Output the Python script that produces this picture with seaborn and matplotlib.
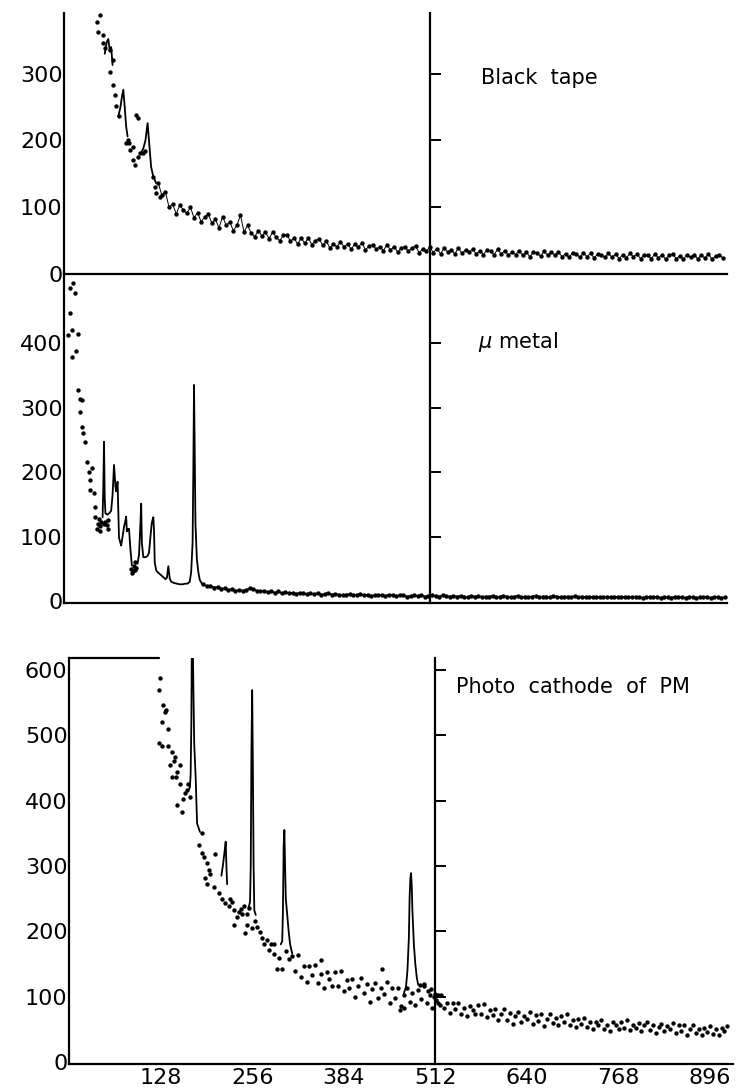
import numpy as np
import matplotlib
matplotlib.use("Agg")
import matplotlib.pyplot as plt
import seaborn as sns

# ---------------- channel axis ----------------
x_ticks = [128, 256, 384, 512, 640, 768, 896]
x_max = 928
split_channel = 512

# ---------------- Black tape ----------------
tape_yticks = [0, 100, 200, 300]
tape_early_x = [46, 51, 48, 54, 54, 58, 65, 64, 69, 68, 71, 73, 77, 87, 91,
                96, 96, 99, 101, 103, 106, 110, 125, 129, 134, 128, 93, 89, 104, 113]
tape_early_y = [378, 388, 363, 358, 346, 339, 336, 303, 321, 283, 268, 251, 236, 196, 196,
                191, 171, 163, 238, 233, 181, 181, 146, 121, 116, 130, 186, 200, 176, 185]
tape_peak_lines = [
    ([57, 60, 62, 64, 66, 68], [330, 348, 352, 335, 340, 313]),
    ([76, 79, 81, 83, 85, 87, 89], [236, 250, 265, 276, 250, 221, 206]),
    ([108, 111, 114, 117, 120, 122, 125, 129], [182, 188, 200, 226, 186, 160, 146, 136]),
]
tape_band_x = np.arange(132, 923, 5)
tape_band_y = [136, 118, 123, 100, 105, 90, 103, 96, 91, 100,
               84, 92, 78, 86, 90, 76, 82, 69, 86, 73,
               78, 65, 73, 88, 63, 73, 61, 56, 65, 57,
               63, 53, 63, 55, 50, 58, 59, 49, 54, 45,
               54, 46, 54, 44, 50, 53, 43, 50, 39, 45,
               41, 48, 41, 45, 37, 45, 40, 47, 36, 42,
               44, 37, 41, 35, 44, 36, 41, 33, 39, 41,
               34, 39, 42, 32, 37, 34, 40, 32, 38, 30,
               39, 33, 36, 30, 39, 31, 36, 33, 37, 30,
               35, 29, 36, 34, 29, 37, 30, 35, 28, 33,
               29, 35, 28, 33, 26, 33, 31, 27, 34, 28,
               33, 28, 33, 26, 30, 25, 32, 30, 25, 32,
               26, 31, 24, 30, 29, 25, 31, 25, 30, 23,
               29, 24, 31, 26, 30, 23, 29, 28, 23, 30,
               24, 29, 22, 28, 30, 23, 27, 22, 29, 25,
               29, 23, 28, 24, 30, 22, 27, 29, 24]

# ---------------- mu metal ----------------
mu_yticks = [0, 100, 200, 300, 400]
mu_early_x = [12, 8, 16, 8, 11, 6, 19, 17, 11, 19, 23, 25, 22, 25, 27, 30, 32, 35, 39, 37,
              37, 42, 44, 44, 47, 49, 50, 52, 46, 51, 58, 60, 62, 56, 61, 94, 96, 98, 100, 95,
              99, 101]
mu_early_y = [493, 485, 478, 447, 420, 412, 414, 387, 379, 327, 314, 312, 293, 270, 260, 247,
              216, 200, 206, 188, 172, 167, 146, 131, 120, 127, 116, 122, 112, 108, 123, 118,
              126, 119, 112, 50, 46, 55, 60, 44, 48, 52]
mu_peak_lines = [
    ([54, 55, 56, 57, 58, 61, 64, 66, 68, 70, 72, 73, 75, 76, 77, 79, 80, 82, 84, 86, 87, 88,
      90, 91, 93, 95],
     [130, 175, 247, 160, 136, 134, 137, 140, 165, 211, 178, 170, 185, 140, 98, 90, 86, 100,
      115, 125, 131, 108, 112, 112, 80, 55]),
    ([103, 105, 107, 108, 109, 111, 114, 117, 119, 121, 123, 125, 126, 127, 129, 130, 134, 138,
      142, 144, 146, 148, 150, 154, 158, 162, 166, 170, 173, 176, 178, 180, 181, 182, 183, 184,
      186, 188, 190, 193],
     [58, 72, 120, 151, 90, 68, 68, 70, 75, 100, 122, 130, 110, 60, 48, 46, 42, 38, 34, 36, 54,
      35, 30, 28, 27, 26, 26, 27, 27, 30, 45, 90, 200, 335, 230, 120, 65, 45, 33, 27]),
]
mu_base_x = np.arange(195, 926, 5)
mu_base_y = [26, 23, 24, 21, 22, 19, 20, 17, 19, 16,
             17, 16, 17, 20, 18, 16, 15, 16, 14, 15,
             13, 15, 12, 14, 12, 13, 11, 13, 12, 11,
             12, 11, 12, 10, 11, 12, 10, 11, 10, 9,
             10, 11, 9, 10, 11, 9, 10, 8, 9, 10,
             9, 8, 10, 9, 8, 9, 9, 7, 8, 9,
             8, 9, 7, 8, 9, 8, 7, 9, 8, 7,
             8, 7, 8, 7, 6, 8, 7, 8, 6, 7,
             7, 8, 6, 7, 8, 7, 6, 7, 8, 6,
             7, 6, 7, 8, 6, 7, 7, 6, 8, 7,
             6, 7, 7, 6, 8, 6, 7, 6, 7, 6,
             7, 6, 6, 7, 6, 7, 6, 7, 6, 6,
             6, 7, 6, 5, 7, 6, 6, 7, 5, 6,
             6, 5, 7, 6, 6, 5, 7, 6, 5, 6,
             6, 7, 5, 6, 6, 5, 6]

# ---------------- Photo cathode of PM ----------------
pm_yticks = [0, 100, 200, 300, 400, 500, 600]
pm_offscale_x = [0, 126]          # channels above full scale
pm_early_x = [127, 126, 132, 134, 136, 130, 139, 126, 130, 139, 144, 148, 141, 155, 151, 155,
              167, 165, 169, 160, 158, 151, 147, 150, 144, 162]
pm_early_y = [587, 569, 546, 536, 538, 520, 510, 488, 483, 483, 474, 467, 454, 454, 444, 426,
              426, 416, 406, 403, 383, 393, 460, 436, 436, 412]
pm_mid_x = [182, 186, 186, 204, 188, 193, 195, 197, 190, 193, 202, 209, 214, 218, 223, 228,
            230, 237, 240, 244, 249, 252, 230, 249, 246, 235, 242, 225, 263, 267, 270, 277,
            272, 279, 286, 282, 286, 293, 291, 298, 260, 256,
            303, 307, 437, 468, 462, 352, 490, 496, 502, 506, 510, 513, 516, 519]
pm_mid_y = [332, 319, 350, 318, 314, 304, 294, 288, 281, 273, 268, 258, 250, 243, 238, 245,
            232, 230, 234, 238, 227, 236, 210, 210, 198, 222, 226, 250, 207, 199, 189, 187,
            181, 171, 166, 181, 181, 159, 143, 143, 215, 205,
            170, 158, 142, 82, 80, 156, 118, 120, 108, 112, 100, 95, 103, 88]
pm_peak_lines = [
    ([167, 169, 170, 171, 172, 173, 174, 175, 177, 179, 183],
     [416, 420, 440, 520, 700, 640, 560, 487, 436, 365, 352]),
    ([213, 215, 217, 219, 220, 221], [285, 300, 318, 337, 300, 272]),
    ([251, 253, 254, 255, 256, 257, 258, 259, 261], [236, 245, 300, 480, 569, 450, 300, 232, 225]),
    ([296, 298, 299, 300, 301, 302, 303, 305, 307, 309, 312],
     [180, 185, 230, 330, 355, 300, 250, 225, 200, 180, 166]),
    ([468, 471, 473, 475, 476, 477, 478, 479, 480, 482, 484, 486, 488],
     [105, 115, 140, 190, 250, 280, 289, 270, 230, 180, 150, 130, 118]),
]
pm_band_x = np.arange(312, 921, 4)
pm_band_y = [162, 140, 164, 130, 147, 123, 147, 133, 149, 121,
             135, 113, 138, 127, 116, 137, 116, 140, 108, 126,
             113, 127, 100, 117, 129, 105, 119, 92, 111, 121,
             98, 113, 104, 122, 91, 113, 98, 114, 85, 102,
             114, 92, 105, 88, 110, 97, 117, 90, 102, 83,
             104, 90, 103, 83, 91, 75, 90, 81, 91, 74,
             83, 70, 86, 80, 73, 88, 74, 89, 69, 80,
             72, 81, 64, 74, 81, 65, 75, 58, 70, 76,
             62, 71, 66, 76, 58, 72, 63, 73, 55, 66,
             74, 59, 67, 56, 71, 61, 74, 57, 65, 53,
             66, 58, 68, 53, 61, 50, 62, 57, 64, 51,
             57, 48, 61, 57, 51, 62, 52, 64, 49, 57,
             52, 60, 47, 56, 61, 49, 57, 44, 53, 58,
             47, 55, 51, 59, 45, 56, 48, 56, 42, 50,
             56, 45, 50, 42, 52, 46, 55, 43, 50, 41,
             52, 47, 55]

# ---------------- drawing ----------------
sns.set_style("white")
plt.rcParams["font.family"] = ["DejaVu Sans"]
INK = "black"
SPINE_W = 1.6

fig = plt.figure(figsize=(7.37, 10.9), dpi=100)
W, H = 737, 1090
ax_tape = fig.add_axes([64 / W, 1 - 274 / H, 663 / W, 261 / H])
ax_mu = fig.add_axes([64 / W, 1 - 603 / H, 663 / W, 329 / H])
ax_pm = fig.add_axes([69 / W, 1 - 1064 / H, 664 / W, 406 / H])


def dots(ax, x, y, size=10):
    sns.scatterplot(x=x, y=y, ax=ax, color=INK, s=size, linewidth=0, legend=False)


def trace(ax, x, y, lw=1.3):
    sns.lineplot(x=x, y=y, ax=ax, color=INK, linewidth=lw, sort=False, estimator=None)


def style_panel(ax, ylim, yticks, show_xlabels):
    ax.set_xlim(0, x_max)
    ax.set_ylim(*ylim)
    ax.set_yticks(yticks)
    ax.set_yticklabels([str(t) for t in yticks])
    ax.set_xticks(x_ticks)
    ax.set_xticklabels([str(t) for t in x_ticks] if show_xlabels else [])
    ax.set_xlabel("")
    ax.set_ylabel("")
    for s in ("top", "right"):
        ax.spines[s].set_visible(False)
    for s in ("left", "bottom"):
        ax.spines[s].set_linewidth(SPINE_W)
        ax.spines[s].set_color(INK)
    ax.tick_params(axis="both", direction="in", length=8, width=1.4,
                   labelsize=16, colors=INK, pad=1)
    ax.tick_params(axis="x", pad=3)
    ax.patch.set_alpha(0)
    # inner reference axis at channel 512
    sec = ax.secondary_yaxis(split_channel, transform=ax.transData)
    sec.spines["right"].set_linewidth(SPINE_W)
    sec.spines["right"].set_color(INK)
    sec.set_yticks([t for t in yticks if t > 0])
    sec.tick_params(direction="out", length=8, width=1.4, colors=INK,
                    labelright=False, labelleft=False)


# Black tape
dots(ax_tape, tape_early_x, tape_early_y)
for px, py in tape_peak_lines:
    trace(ax_tape, px, py)
trace(ax_tape, tape_band_x, tape_band_y, lw=0.7)
dots(ax_tape, tape_band_x, tape_band_y)
style_panel(ax_tape, (0, 391), tape_yticks, False)
ax_tape.text(583, 294, "Black  tape", fontsize=15, va="center", color=INK)

# mu metal
dots(ax_mu, mu_early_x, mu_early_y)
for px, py in mu_peak_lines:
    trace(ax_mu, px, py)
trace(ax_mu, mu_base_x, mu_base_y, lw=1.2)
dots(ax_mu, mu_base_x, mu_base_y)
style_panel(ax_mu, (-3, 507), mu_yticks, False)
ax_mu.text(580, 401, r"$\mu$ metal", fontsize=15, va="center", color=INK)

# Photo cathode of PM
pm_top = 618
dots(ax_pm, pm_early_x, pm_early_y)
dots(ax_pm, pm_mid_x, pm_mid_y)
for px, py in pm_peak_lines:
    trace(ax_pm, px, py)
dots(ax_pm, pm_band_x, pm_band_y)
style_panel(ax_pm, (-3, pm_top), pm_yticks, True)
ax_pm.plot(pm_offscale_x, [pm_top, pm_top], color=INK, lw=1.6, clip_on=False)
ax_pm.text(541, 573, "Photo  cathode  of  PM", fontsize=15, va="center", color=INK)

fig.savefig("out.png", dpi=100, facecolor="white")
